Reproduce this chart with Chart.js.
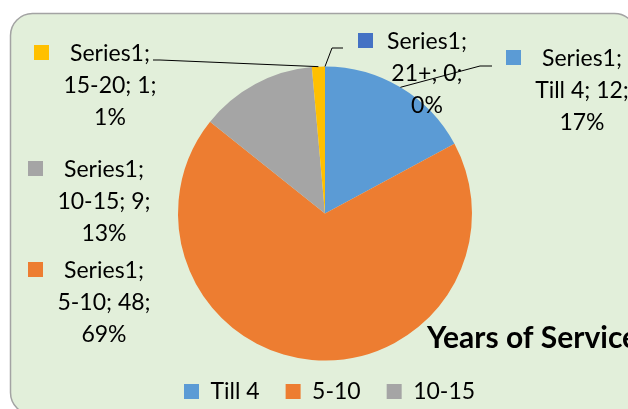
<!DOCTYPE html>
<html>
<head>
<meta charset="utf-8">
<script src="https://cdn.jsdelivr.net/npm/chart.js@4.4.0/dist/chart.umd.min.js"></script>
<style>
  html, body { margin: 0; padding: 0; background: #fff; overflow: hidden; }
  canvas { display: block; }
</style>
</head>
<body>
<canvas id="myChart-Years" width="628" height="409"></canvas>
<script>
const seriesName = 'Series1';
const categories = ['Till 4', '5-10', '10-15', '15-20', '21+'];
const serviceCounts = [12, 48, 9, 1, 0];
const sliceColors = ['#5b9bd5', '#ed7d31', '#a5a5a5', '#ffc000', '#4472c4'];
const chartTitle = 'Years of Service';

const FONT = 'Lato, "Open Sans", sans-serif';
const LABEL_SIZE = 23;
const LINE_GAP = 32;
const LEGEND_PAD = 26;
const LEGEND_SHOWN = 3; // the rest of the legend is cut off in the original

// label block: centre x and baseline of first line, plus leader elbow points
const labelPlaces = [
  { x: 582, y: 66, leader: [[480, 66], [492, 66]] },
  { x: 104, y: 278 },
  { x: 104, y: 177 },
  { x: 110, y: 61, leader: [[160, 60], [153, 60]] },
  { x: 427, y: 49, leader: [[332, 48], [343, 48]] }
];

const boxBackground = {
  id: 'boxBackground',
  beforeDraw(chart) {
    const ctx = chart.ctx;
    ctx.save();
    ctx.beginPath();
    ctx.roundRect(10.5, 13.5, 626, 401, 22);
    ctx.fillStyle = '#e2efda';
    ctx.fill();
    ctx.strokeStyle = '#a3a3a3';
    ctx.lineWidth = 1.5;
    ctx.stroke();
    ctx.restore();
  }
};

// legend sits off-centre in the original, push it right
const legendPlace = {
  id: 'legendPlace',
  afterLayout(chart) {
    const lg = chart.legend;
    const w = lg.width, h = lg.height;
    lg.left = 184 - LEGEND_PAD;
    lg.right = lg.left + w;
    lg.top = 391.5 - LEGEND_PAD - LABEL_SIZE / 2;
    lg.bottom = lg.top + h;
  }
};

const sliceLabels = {
  id: 'sliceLabels',
  afterDatasetsDraw(chart) {
    const ctx = chart.ctx;
    const arcs = chart.getDatasetMeta(0).data;
    const total = serviceCounts.reduce((a, b) => a + b, 0);
    ctx.save();
    ctx.font = LABEL_SIZE + 'px ' + FONT;
    arcs.forEach((arc, i) => {
      const place = labelPlaces[i];
      const p = arc.getProps(['x', 'y', 'startAngle', 'endAngle', 'outerRadius'], true);
      if (place.leader) {
        const mid = (p.startAngle + p.endAngle) / 2;
        ctx.beginPath();
        ctx.moveTo(p.x + Math.cos(mid) * p.outerRadius, p.y + Math.sin(mid) * p.outerRadius);
        place.leader.forEach(pt => ctx.lineTo(pt[0], pt[1]));
        ctx.strokeStyle = '#000';
        ctx.lineWidth = 1;
        ctx.stroke();
      }
      const lines = [
        seriesName + ';',
        categories[i] + '; ' + serviceCounts[i] + ';',
        Math.round(serviceCounts[i] / total * 100) + '%'
      ];
      const widest = Math.max(...lines.map(t => ctx.measureText(t).width));
      ctx.fillStyle = sliceColors[i];
      ctx.fillRect(Math.round(place.x - widest / 2 - 29), place.y - 16, 15, 15);
      ctx.fillStyle = '#000';
      ctx.textAlign = 'center';
      ctx.textBaseline = 'alphabetic';
      lines.forEach((t, k) => ctx.fillText(t, place.x, place.y + k * LINE_GAP));
    });
    ctx.font = 'bold 30px ' + FONT;
    ctx.textAlign = 'left';
    ctx.fillText(chartTitle, 427, 348);
    ctx.restore();
  }
};

const ctxYears = document.getElementById('myChart-Years');

new Chart(ctxYears, {
  type: 'pie',
  data: {
    labels: categories,
    datasets: [
      {
        label: seriesName,
        data: serviceCounts,
        backgroundColor: sliceColors,
        borderWidth: 0
      }]
  },
  options: {
    responsive: false,
    animation: false,
    events: [],
    devicePixelRatio: 1,
    radius: 147,
    layout: {
      padding: { left: 22, right: 0, top: 77, bottom: 0 }
    },
    plugins: {
      tooltip: { enabled: false },
      legend: {
        position: 'bottom',
        align: 'start',
        labels: {
          boxWidth: 15,
          boxHeight: 15,
          padding: LEGEND_PAD,
          color: '#000',
          font: { family: FONT, size: LABEL_SIZE },
          filter: item => item.index < LEGEND_SHOWN
        }
      }
    }
  },
  plugins: [boxBackground, legendPlace, sliceLabels]
});
</script>
</body>
</html>
